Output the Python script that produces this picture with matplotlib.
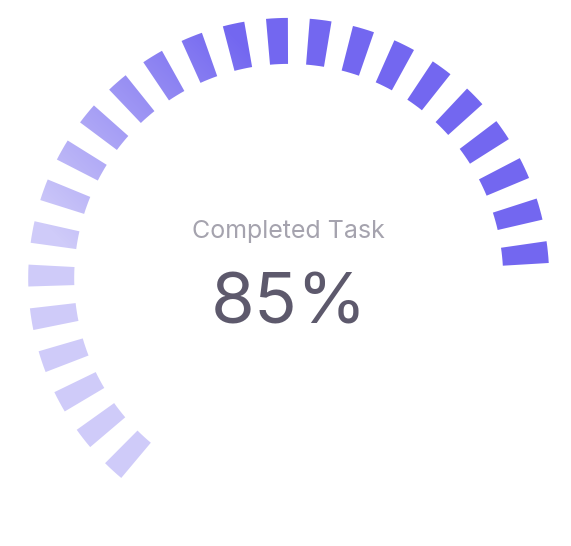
import numpy as np
import matplotlib
matplotlib.use("Agg")
import matplotlib.pyplot as plt
from matplotlib.patches import Wedge, PathPatch
from matplotlib.path import Path
from matplotlib.colors import LinearSegmentedColormap

# data
label = "Completed Task"
value = 85  # percent

# gauge setup (angles clockwise from 12 o'clock)
start_angle = -140
sweep = 270
n_slots = 28               # dash + gap pairs over the full track
step = sweep / n_slots
dash = step / 2

W, H = 571, 546
cx, cy = 288.7, H - 278.4
r_out, thick = 260.5, 46

fig = plt.figure(figsize=(W / 100, H / 100), dpi=100)
ax = fig.add_axes([0, 0, 1, 1])
ax.set_xlim(0, W)
ax.set_ylim(0, H)
ax.set_aspect('equal')
ax.axis('off')

# dashes up to the filled end of the arc
fill_end = start_angle + sweep * value / 100
wedges = []
a = start_angle
while a < fill_end:
    a2 = min(a + dash, fill_end)
    # matplotlib wedge angles are ccw from +x
    w = Wedge((cx, cy), r_out, 90 - a2, 90 - a, width=thick)
    wedges.append(w)
    a += step

compound = Path.make_compound_path(*[w.get_path() for w in wedges])
clip = PathPatch(compound, facecolor='none', edgecolor='none')
ax.add_patch(clip)

# diagonal gradient: light lower-left -> dark upper-right
cmap = LinearSegmentedColormap.from_list('g', ['#CFCBF9', '#7367F0'])
xs = np.arange(W) + 0.5
ys = np.arange(H) + 0.5   # pixel rows from the top
X, Y = np.meshgrid(xs, ys)
u = X - Y
t = np.clip((u + 180) / 380, 0, 1)
im = ax.imshow(t, cmap=cmap, vmin=0, vmax=1, extent=[0, W, 0, H],
               origin='upper', interpolation='bilinear')
im.set_clip_path(clip)

fam = ['Inter', 'DejaVu Sans']
ax.text(cx, H - 238, label, ha='center', va='baseline', fontsize=18,
        color='#A5A3AE', family=fam)
ax.text(cx, H - 324, f"{value}%", ha='center', va='baseline', fontsize=51,
        color='#5D596C', family=fam)

fig.savefig('out.png', dpi=100, facecolor='white')
